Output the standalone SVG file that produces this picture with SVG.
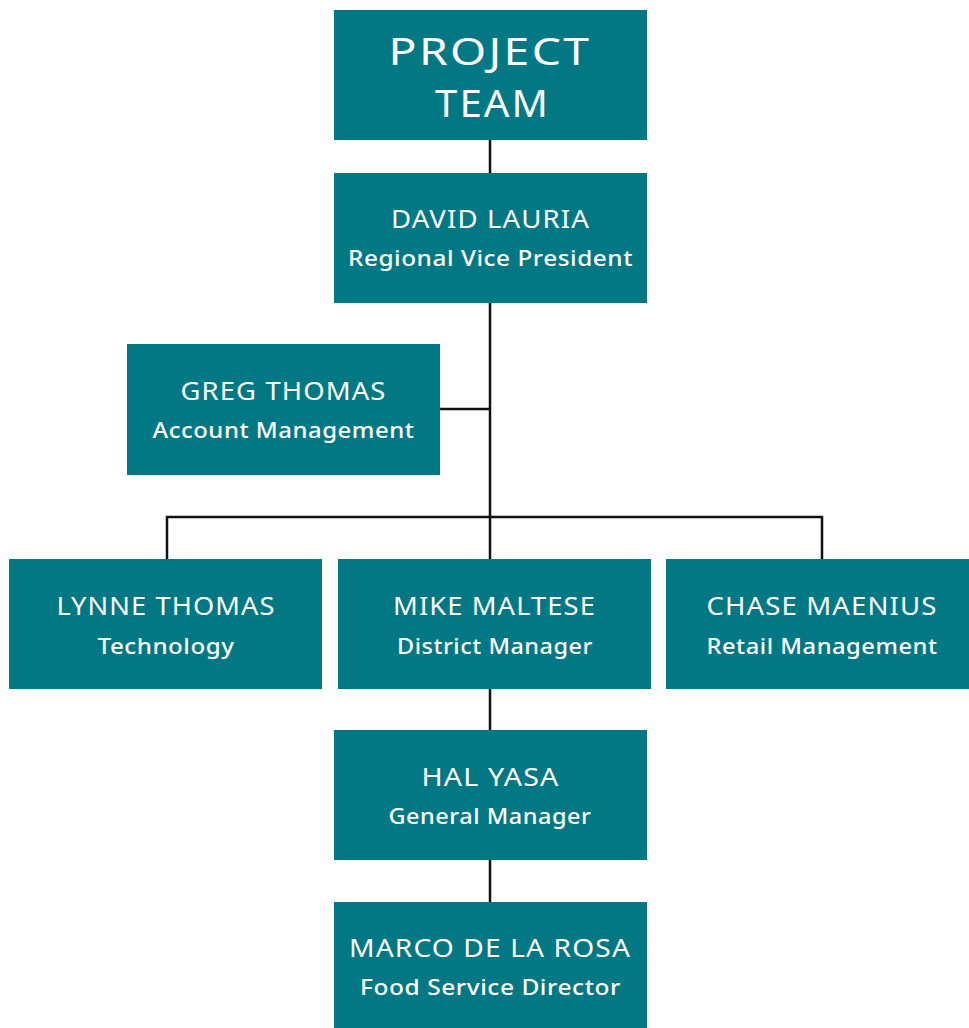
<svg xmlns="http://www.w3.org/2000/svg" width="969" height="1028" viewBox="0 0 969 1028">
  <style>
    .box { fill: #017884; }
    text { fill: #ffffff; text-anchor: middle; font-family: "Noto Sans", "Liberation Sans", sans-serif; }
    .name { font-size: 25px; font-weight: 400; letter-spacing: 1px; }
    .role { font-size: 22.5px; font-weight: 500; letter-spacing: 0.5px; }
    .title { font-size: 39px; font-weight: 400; letter-spacing: 2px; }
    .link { stroke: #111111; stroke-width: 2.5; fill: none; }
  </style>

  <!-- connectors -->
  <g id="connectors">
    <line class="link" x1="490" y1="140" x2="490" y2="173"/>
    <line class="link" x1="490" y1="303" x2="490" y2="559"/>
    <line class="link" x1="440" y1="409" x2="490" y2="409"/>
    <polyline class="link" points="167,559 167,517 822,517 822,559"/>
    <line class="link" x1="490" y1="689" x2="490" y2="730"/>
    <line class="link" x1="490" y1="860" x2="490" y2="902"/>
  </g>

  <g id="project-team">
    <rect class="box" x="334" y="10" width="313" height="130"/>
    <text class="title" x="490" y="65" textLength="203" lengthAdjust="spacingAndGlyphs">PROJECT</text>
    <text class="title" x="492.5" y="117" textLength="115" lengthAdjust="spacingAndGlyphs">TEAM</text>
  </g>

  <g id="david-lauria">
    <rect class="box" x="334" y="173" width="313" height="130"/>
    <text class="name" x="490.5" y="228" textLength="199" lengthAdjust="spacingAndGlyphs">DAVID LAURIA</text>
    <text class="role" x="490.5" y="266" textLength="285" lengthAdjust="spacingAndGlyphs">Regional Vice President</text>
  </g>

  <g id="greg-thomas">
    <rect class="box" x="127" y="344" width="313" height="131"/>
    <text class="name" x="283.5" y="400" textLength="206" lengthAdjust="spacingAndGlyphs">GREG THOMAS</text>
    <text class="role" x="283.5" y="438" textLength="262" lengthAdjust="spacingAndGlyphs">Account Management</text>
  </g>

  <g id="lynne-thomas">
    <rect class="box" x="9" y="559" width="313" height="130"/>
    <text class="name" x="166" y="615" textLength="219" lengthAdjust="spacingAndGlyphs">LYNNE THOMAS</text>
    <text class="role" x="166" y="653.5" textLength="137" lengthAdjust="spacingAndGlyphs">Technology</text>
  </g>

  <g id="mike-maltese">
    <rect class="box" x="338" y="559" width="313" height="130"/>
    <text class="name" x="494.5" y="615" textLength="203" lengthAdjust="spacingAndGlyphs">MIKE MALTESE</text>
    <text class="role" x="495" y="653.5" textLength="196" lengthAdjust="spacingAndGlyphs">District Manager</text>
  </g>

  <g id="chase-maenius">
    <rect class="box" x="666" y="559" width="313" height="130"/>
    <text class="name" x="822" y="615" textLength="231" lengthAdjust="spacingAndGlyphs">CHASE MAENIUS</text>
    <text class="role" x="822" y="653.5" textLength="231" lengthAdjust="spacingAndGlyphs">Retail Management</text>
  </g>

  <g id="hal-yasa">
    <rect class="box" x="334" y="730" width="313" height="130"/>
    <text class="name" x="490.5" y="786" textLength="138" lengthAdjust="spacingAndGlyphs">HAL YASA</text>
    <text class="role" x="490" y="824" textLength="203" lengthAdjust="spacingAndGlyphs">General Manager</text>
  </g>

  <g id="marco-de-la-rosa">
    <rect class="box" x="334" y="902" width="313" height="130"/>
    <text class="name" x="490" y="957" textLength="282" lengthAdjust="spacingAndGlyphs">MARCO DE LA ROSA</text>
    <text class="role" x="490.5" y="995" textLength="261" lengthAdjust="spacingAndGlyphs">Food Service Director</text>
  </g>
</svg>
